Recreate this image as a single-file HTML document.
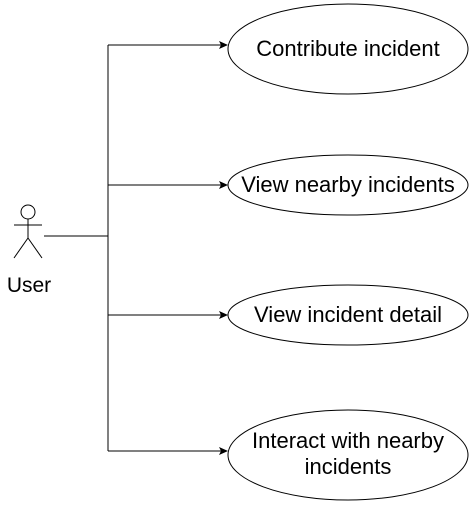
<!DOCTYPE html>
<html><head><style>body{margin:0;background:#fff}</style></head><body>
<svg width="474" height="511" xmlns="http://www.w3.org/2000/svg" font-family="Liberation Sans, Arial, sans-serif">
<defs><marker id="a" markerWidth="10" markerHeight="10" refX="8" refY="4" orient="auto" markerUnits="userSpaceOnUse"><path d="M0,0 L9,4 L0,8 L2,4 Z" fill="#000"/></marker></defs>
<g stroke="#000" stroke-width="1" fill="none">
<circle cx="28" cy="212" r="7" fill="#fff"/>
<line x1="28" y1="219" x2="28" y2="238"/>
<line x1="14" y1="225" x2="42" y2="225"/>
<line x1="28" y1="238" x2="14" y2="258"/>
<line x1="28" y1="238" x2="42" y2="258"/>
<line x1="44" y1="236" x2="108" y2="236"/>
<line x1="108" y1="45" x2="108" y2="451"/>
<line x1="108" y1="45" x2="227" y2="45" marker-end="url(#a)"/>
<line x1="108" y1="185" x2="227" y2="185" marker-end="url(#a)"/>
<line x1="108" y1="315" x2="227" y2="315" marker-end="url(#a)"/>
<line x1="108" y1="451" x2="227" y2="451" marker-end="url(#a)"/>
<ellipse cx="348" cy="49" rx="120" ry="45" fill="#fff"/>
<ellipse cx="348" cy="185" rx="120" ry="30" fill="#fff"/>
<ellipse cx="348" cy="315" rx="120" ry="30" fill="#fff"/>
<ellipse cx="348" cy="455" rx="120" ry="45" fill="#fff"/>
</g>
<g font-size="22" text-anchor="middle" fill="#000">
<text x="29" y="292" font-size="21">User</text>
<text x="348" y="56">Contribute incident</text>
<text x="348" y="192">View nearby incidents</text>
<text x="348" y="322">View incident detail</text>
<text x="348" y="448">Interact with nearby</text>
<text x="348" y="474">incidents</text>
</g>
</svg>
</body></html>
